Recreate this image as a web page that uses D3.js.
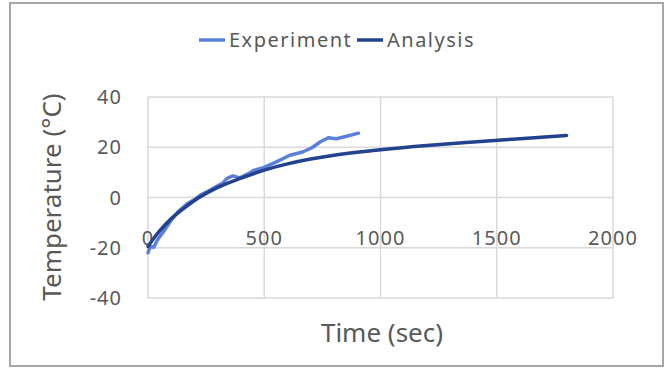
<!DOCTYPE html>
<html>
<head>
<meta charset="utf-8">
<script src="https://cdn.jsdelivr.net/npm/d3@7"></script>
<style>
  body { margin: 0; background: #fff; }
  text { font-family: "Noto Sans", Roboto, sans-serif; fill: #595959; }
</style>
</head>
<body>
<div id="chart"></div>
<script>
// experiment readings (time in sec, temperature in C)
var expTime = [0, 10, 25, 40, 55, 75, 100, 130, 170, 200, 230, 260, 290, 320, 340, 365, 395, 430, 455, 500, 550, 610, 665, 705, 740, 775, 810, 855, 905];
var expTemp = [-22, -19.5, -19.8, -17, -15, -12.5, -9, -5.6, -2.4, -0.8, 1.2, 2.6, 4.2, 5.6, 7.6, 8.6, 7.8, 9.4, 10.8, 12.0, 14.1, 16.8, 18.1, 19.8, 22.1, 23.8, 23.4, 24.4, 25.6];

// analysis curve
var anaTime = [0, 25, 50, 100, 150, 200, 300, 400, 500, 600, 700, 800, 900, 1000, 1200, 1400, 1600, 1800];
var anaTemp = [-19.5, -16.2, -13.3, -8.4, -4.6, -1.2, 4.0, 7.7, 10.9, 13.4, 15.3, 16.8, 18.0, 19.0, 20.7, 22.1, 23.4, 24.7];

var xTicks = [0, 500, 1000, 1500, 2000];
var yTicks = [-40, -20, 0, 20, 40];

var seriesNames = ["Experiment", "Analysis"];
var seriesColors = ["#5b80dc", "#22418f"];

var width = 669, height = 368;
var margin = {top: 97, right: 56, bottom: 70, left: 148};

var svg = d3.select("#chart")
  .append("svg")
  .attr("width", width)
  .attr("height", height);

// outer frame
svg.append("rect")
  .attr("x", 10).attr("y", 3)
  .attr("width", 653).attr("height", 363)
  .attr("fill", "#fff")
  .attr("stroke", "#a6a6a6")
  .attr("stroke-width", 2);

var x = d3.scaleLinear().domain([0, 2000]).range([margin.left, width - margin.right]);
var y = d3.scaleLinear().domain([-40, 40]).range([height - margin.bottom, margin.top]);

var g = svg.append("g");

// gridlines
g.selectAll(".hgrid").data(yTicks).enter().append("line")
  .attr("x1", x(0)).attr("x2", x(2000))
  .attr("y1", function (d) { return y(d); })
  .attr("y2", function (d) { return y(d); })
  .attr("stroke", "#d9d9d9").attr("stroke-width", 1.5);

g.selectAll(".vgrid").data(xTicks).enter().append("line")
  .attr("y1", y(-40)).attr("y2", y(40))
  .attr("x1", function (d) { return x(d); })
  .attr("x2", function (d) { return x(d); })
  .attr("stroke", "#d9d9d9").attr("stroke-width", 1.5);

// y tick labels
g.selectAll(".ylab").data(yTicks).enter().append("text")
  .attr("x", 122)
  .attr("y", function (d) { return y(d); })
  .attr("dy", "0.36em")
  .attr("text-anchor", "end")
  .style("font-size", "20px")
  .style("letter-spacing", "1px")
  .text(function (d) { return d; });

// x tick labels sit on the -20 line
g.selectAll(".xlab").data(xTicks).enter().append("text")
  .attr("x", function (d) { return x(d); })
  .attr("y", y(-20) - 3)
  .attr("text-anchor", "middle")
  .style("font-size", "20px")
  .style("letter-spacing", "1px")
  .text(function (d) { return d; });

var line = d3.line()
  .x(function (d) { return x(d[0]); })
  .y(function (d) { return y(d[1]); });

var expData = d3.zip(expTime, expTemp);
var anaData = d3.zip(anaTime, anaTemp);

g.append("path")
  .datum(expData)
  .attr("fill", "none")
  .attr("stroke", seriesColors[0])
  .attr("stroke-width", 3.5)
  .attr("stroke-linejoin", "round")
  .attr("stroke-linecap", "round")
  .attr("d", line);

g.append("path")
  .datum(anaData)
  .attr("fill", "none")
  .attr("stroke", seriesColors[1])
  .attr("stroke-width", 3.5)
  .attr("stroke-linejoin", "round")
  .attr("stroke-linecap", "round")
  .attr("d", line.curve(d3.curveMonotoneX));

// axis titles
svg.append("text")
  .attr("x", 382).attr("y", 342)
  .attr("text-anchor", "middle")
  .style("font-size", "26px")
  .text("Time (sec)");

svg.append("text")
  .attr("transform", "translate(61,197) rotate(-90)")
  .attr("text-anchor", "middle")
  .style("font-size", "26px")
  .text("Temperature (\u00B0C)");

// legend
var legendX = [199, 357];
var legend = svg.selectAll(".legend").data(seriesNames).enter().append("g")
  .attr("transform", function (d, i) { return "translate(" + legendX[i] + ",40)"; });

legend.append("line")
  .attr("x1", 0).attr("x2", 26)
  .attr("stroke", function (d, i) { return seriesColors[i]; })
  .attr("stroke-width", 3.5);

legend.append("text")
  .attr("x", 30).attr("dy", "0.36em")
  .style("font-size", "20px")
  .style("letter-spacing", "1.5px")
  .text(function (d) { return d; });
</script>
</body>
</html>
